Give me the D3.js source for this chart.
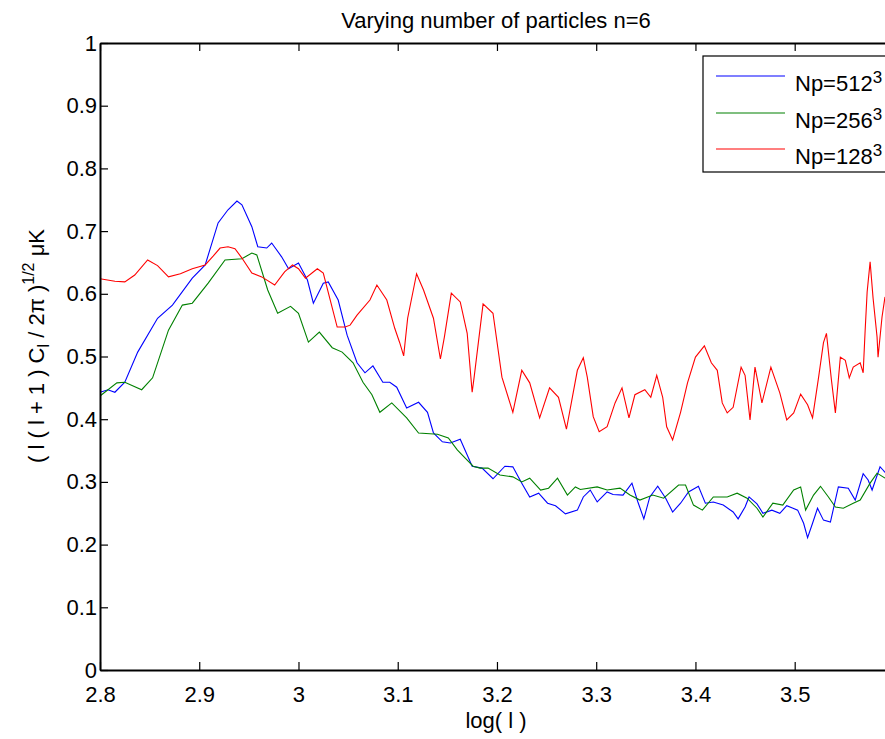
<!DOCTYPE html>
<html>
<head>
<meta charset="utf-8">
<script src="https://cdn.jsdelivr.net/npm/d3@7"></script>
<style>
  html, body { margin: 0; padding: 0; background: #fff; }
  svg { display: block; font-family: "Liberation Sans", Arial, Helvetica, sans-serif; }
</style>
</head>
<body>
<svg id="chart" width="885" height="739"></svg>
<script>
const title = "Varying number of particles n=6";
const xTicks = [2.8, 2.9, 3.0, 3.1, 3.2, 3.3, 3.4, 3.5];
const xTickLabels = ["2.8", "2.9", "3", "3.1", "3.2", "3.3", "3.4", "3.5"];
const yTicks = [0, 0.1, 0.2, 0.3, 0.4, 0.5, 0.6, 0.7, 0.8, 0.9, 1];
const yTickLabels = ["0", "0.1", "0.2", "0.3", "0.4", "0.5", "0.6", "0.7", "0.8", "0.9", "1"];
const seriesNames = ["Np=512", "Np=256", "Np=128"];
const seriesColors = ["#0000ff", "#008000", "#ff0000"];

const blueX = [2.800,2.808,2.815,2.825,2.838,2.858,2.873,2.893,2.906,2.919,2.929,2.938,2.943,2.953,2.959,2.968,2.973,2.983,2.990,3.000,3.009,3.015,3.025,3.030,3.040,3.049,3.059,3.067,3.075,3.085,3.092,3.099,3.109,3.121,3.130,3.136,3.145,3.153,3.163,3.175,3.185,3.196,3.208,3.216,3.225,3.233,3.242,3.251,3.259,3.269,3.281,3.287,3.294,3.301,3.311,3.317,3.327,3.336,3.342,3.348,3.354,3.362,3.370,3.377,3.385,3.393,3.403,3.410,3.418,3.428,3.438,3.443,3.450,3.454,3.462,3.468,3.477,3.485,3.492,3.503,3.509,3.513,3.518,3.523,3.529,3.536,3.544,3.554,3.561,3.569,3.574,3.578,3.586,3.589,3.591];
const blueY = [0.443,0.447,0.443,0.459,0.507,0.561,0.582,0.625,0.646,0.713,0.734,0.748,0.742,0.707,0.675,0.673,0.681,0.659,0.640,0.649,0.622,0.585,0.617,0.619,0.590,0.534,0.490,0.474,0.485,0.459,0.459,0.451,0.418,0.427,0.411,0.378,0.364,0.362,0.368,0.325,0.322,0.305,0.325,0.324,0.298,0.276,0.282,0.266,0.262,0.249,0.255,0.276,0.287,0.268,0.284,0.280,0.279,0.298,0.268,0.241,0.276,0.293,0.274,0.252,0.266,0.284,0.293,0.266,0.268,0.263,0.252,0.241,0.260,0.276,0.265,0.250,0.255,0.250,0.262,0.255,0.234,0.211,0.234,0.258,0.239,0.236,0.292,0.290,0.271,0.313,0.303,0.287,0.324,0.319,0.315];

const greenX = [2.800,2.817,2.825,2.842,2.853,2.869,2.883,2.893,2.909,2.926,2.943,2.953,2.958,2.969,2.979,2.992,3.000,3.010,3.021,3.034,3.044,3.055,3.065,3.074,3.082,3.094,3.109,3.121,3.140,3.151,3.160,3.168,3.176,3.183,3.191,3.203,3.216,3.225,3.233,3.244,3.252,3.261,3.271,3.279,3.284,3.301,3.311,3.324,3.334,3.344,3.357,3.368,3.383,3.390,3.398,3.407,3.418,3.432,3.442,3.452,3.462,3.468,3.478,3.488,3.499,3.506,3.511,3.519,3.526,3.534,3.541,3.549,3.559,3.566,3.576,3.583,3.591];
const greenY = [0.437,0.458,0.459,0.447,0.466,0.542,0.582,0.585,0.617,0.654,0.656,0.665,0.662,0.606,0.569,0.580,0.569,0.523,0.539,0.514,0.507,0.490,0.459,0.439,0.411,0.426,0.402,0.378,0.376,0.370,0.351,0.338,0.325,0.322,0.322,0.311,0.308,0.300,0.306,0.287,0.290,0.306,0.279,0.292,0.288,0.292,0.287,0.290,0.279,0.271,0.279,0.274,0.295,0.295,0.263,0.255,0.276,0.276,0.282,0.274,0.258,0.244,0.266,0.263,0.287,0.292,0.255,0.279,0.293,0.276,0.260,0.258,0.266,0.271,0.298,0.314,0.306];

const redX = [2.800,2.815,2.825,2.835,2.848,2.858,2.869,2.881,2.893,2.906,2.914,2.921,2.929,2.936,2.943,2.953,2.963,2.976,2.986,2.994,3.000,3.007,3.019,3.025,3.032,3.039,3.047,3.052,3.059,3.072,3.079,3.089,3.097,3.102,3.106,3.110,3.119,3.126,3.136,3.143,3.147,3.154,3.163,3.170,3.175,3.177,3.186,3.196,3.205,3.216,3.225,3.233,3.243,3.253,3.262,3.270,3.281,3.287,3.291,3.297,3.303,3.311,3.319,3.326,3.333,3.339,3.349,3.355,3.361,3.367,3.371,3.377,3.385,3.392,3.400,3.409,3.416,3.422,3.427,3.432,3.438,3.446,3.450,3.455,3.460,3.467,3.476,3.485,3.492,3.499,3.506,3.513,3.518,3.524,3.529,3.532,3.537,3.541,3.546,3.551,3.555,3.559,3.566,3.569,3.571,3.573,3.576,3.579,3.583,3.584,3.588,3.591];
const redY = [0.624,0.620,0.619,0.630,0.654,0.645,0.627,0.632,0.640,0.646,0.660,0.673,0.675,0.672,0.657,0.633,0.627,0.614,0.635,0.646,0.640,0.625,0.640,0.633,0.590,0.547,0.547,0.550,0.566,0.590,0.614,0.590,0.545,0.522,0.501,0.561,0.632,0.606,0.561,0.496,0.531,0.601,0.587,0.537,0.443,0.467,0.584,0.569,0.467,0.411,0.478,0.458,0.402,0.450,0.435,0.384,0.478,0.498,0.467,0.404,0.380,0.388,0.426,0.450,0.402,0.439,0.447,0.435,0.470,0.435,0.388,0.367,0.411,0.458,0.499,0.517,0.490,0.478,0.426,0.410,0.419,0.483,0.470,0.399,0.483,0.426,0.483,0.442,0.399,0.410,0.440,0.423,0.402,0.466,0.522,0.537,0.463,0.410,0.499,0.494,0.466,0.483,0.490,0.474,0.542,0.603,0.651,0.593,0.531,0.499,0.563,0.595];

const seriesX = [blueX, greenX, redX];
const seriesY = [blueY, greenY, redY];

const svg = d3.select("#chart");
const mLeft = 100, mRight = 885, mTop = 43, mBottom = 670;
const x = d3.scaleLinear().domain([2.8, 3.591]).range([mLeft, mRight]);
const y = d3.scaleLinear().domain([0, 1]).range([mBottom, mTop]);
const fs = 22;

svg.append("clipPath").attr("id", "clip").append("rect")
  .attr("x", mLeft).attr("y", mTop).attr("width", mRight - mLeft).attr("height", mBottom - mTop);

const line = d3.line().x(d => x(d[0])).y(d => y(d[1])).curve(d3.curveLinear);
const plot = svg.append("g").attr("clip-path", "url(#clip)");
seriesX.forEach((xs, i) => {
  const pts = xs.map((v, j) => [v, seriesY[i][j]]);
  plot.append("path").datum(pts)
    .attr("d", line).attr("fill", "none")
    .attr("stroke", seriesColors[i]).attr("stroke-width", 1.1)
    .attr("stroke-linejoin", "miter");
});

const tickLen = 8;
const ax = svg.append("g");
const xb = d3.axisBottom(x).tickValues(xTicks).tickFormat((d, i) => xTickLabels[i]).tickSizeInner(-tickLen).tickSizeOuter(0).tickPadding(16);
ax.append("g").attr("transform", `translate(0,${mBottom})`).call(xb);
const xt = d3.axisTop(x).tickValues(xTicks).tickFormat("").tickSizeInner(-tickLen).tickSizeOuter(0);
ax.append("g").attr("transform", `translate(0,${mTop})`).call(xt);
const yl = d3.axisLeft(y).tickValues(yTicks).tickFormat((d, i) => yTickLabels[i]).tickSizeInner(-tickLen).tickSizeOuter(0).tickPadding(3);
ax.append("g").attr("transform", `translate(${mLeft},0)`).call(yl);

ax.selectAll(".domain").attr("stroke", "#000").attr("stroke-width", 2);
ax.selectAll(".tick line").attr("stroke", "#000").attr("stroke-width", 1.2);
ax.selectAll(".tick text").attr("font-size", fs).attr("fill", "#000")
  .attr("font-family", "'Liberation Sans', Arial, sans-serif");

svg.append("text").attr("x", 496).attr("y", 28)
  .attr("text-anchor", "middle").attr("font-size", 22).text(title);

svg.append("text").attr("x", 496).attr("y", 728)
  .attr("text-anchor", "middle").attr("font-size", fs).text("log( l )");

const ylab = svg.append("text").attr("transform", `translate(44,346) rotate(-90)`)
  .attr("text-anchor", "middle").attr("font-size", 22);
ylab.append("tspan").text("( l ( l + 1 ) C");
ylab.append("tspan").attr("font-size", 16).attr("dy", 5).text("l");
ylab.append("tspan").attr("dy", -5).text(" / 2π )");
ylab.append("tspan").attr("font-size", 16).attr("dy", -10).text("1/2");
ylab.append("tspan").attr("dy", 10).text(" μK");

const lg = svg.append("g");
lg.append("rect").attr("x", 703).attr("y", 56).attr("width", 240).attr("height", 116)
  .attr("fill", "#fff").attr("stroke", "#000").attr("stroke-width", 1.2);
const lgY = [76, 113, 149];
seriesNames.forEach((n, i) => {
  lg.append("line").attr("x1", 716).attr("x2", 785).attr("y1", lgY[i]).attr("y2", lgY[i])
    .attr("stroke", seriesColors[i]).attr("stroke-width", 1.1);
  const t = lg.append("text").attr("x", 795).attr("y", lgY[i] + 15).attr("font-size", fs);
  t.append("tspan").text(n);
  t.append("tspan").attr("font-size", 17).attr("dy", -8).text("3");
});
</script>
</body>
</html>
